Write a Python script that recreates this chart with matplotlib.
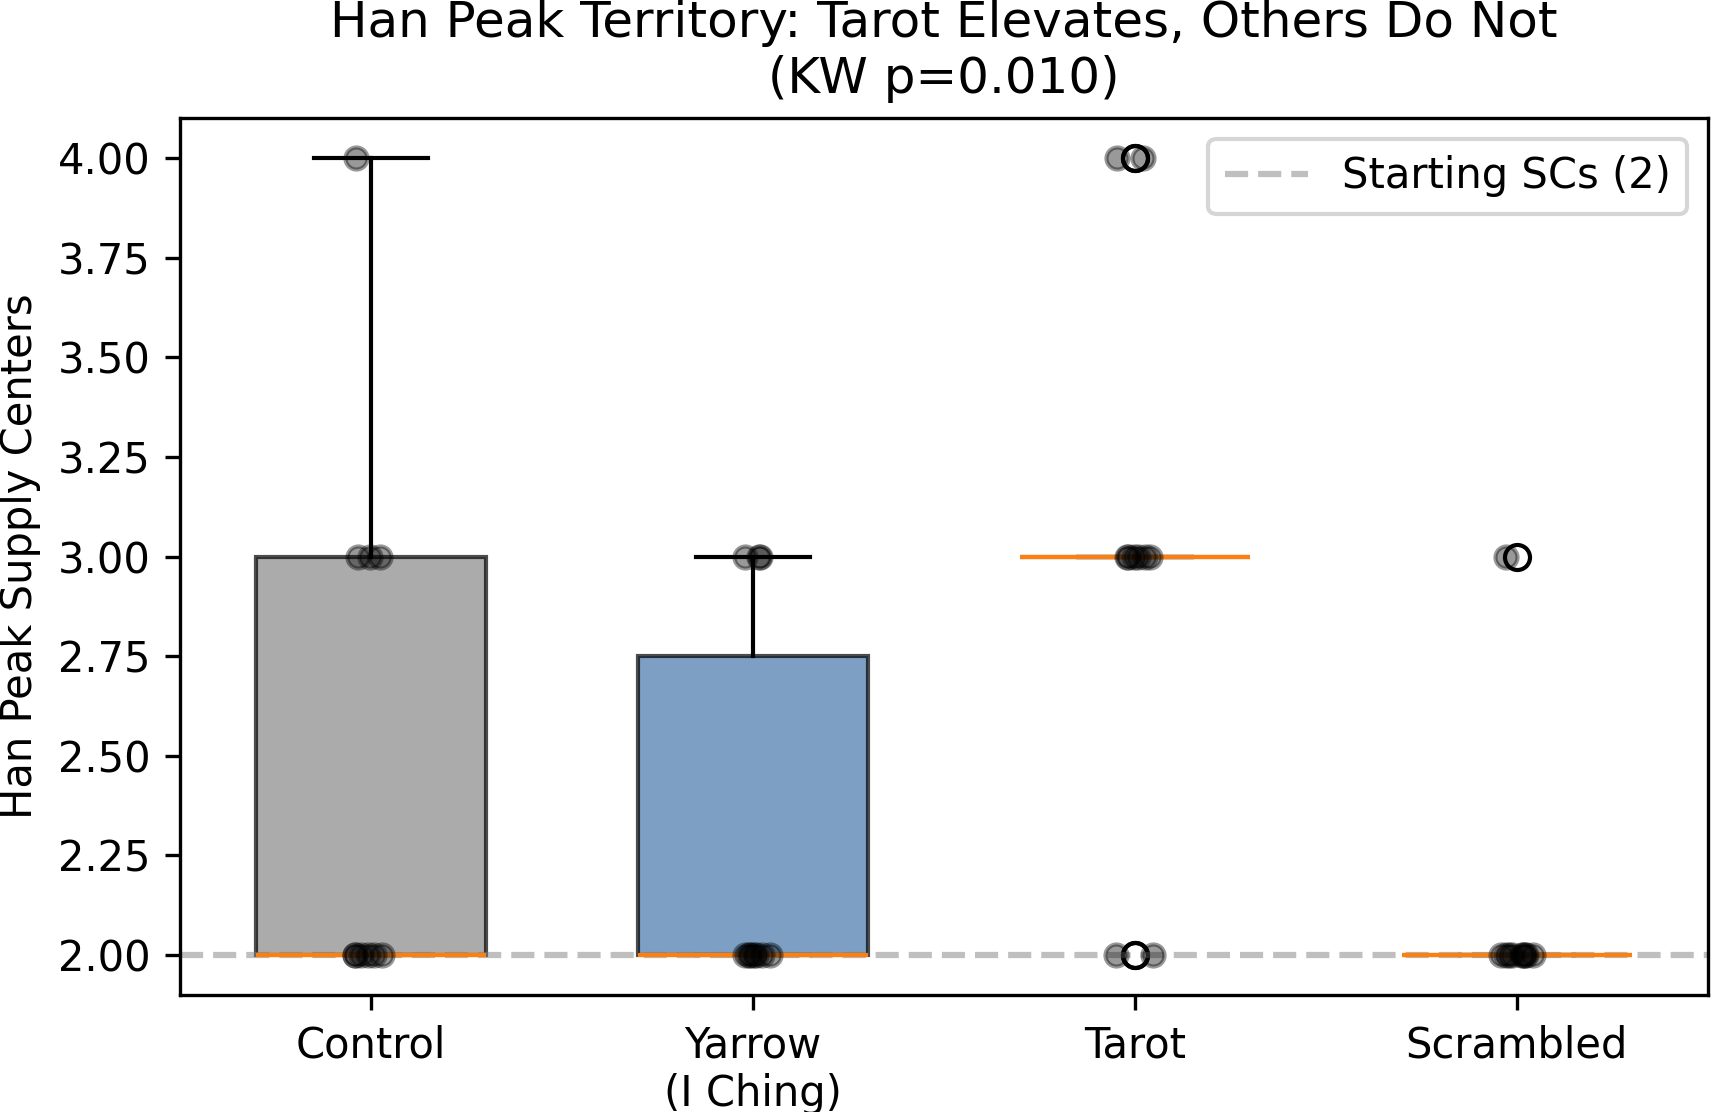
import numpy as np
import matplotlib
matplotlib.use("Agg")
import matplotlib.pyplot as plt

# peak supply centres per game, by condition
labels = ['Control', 'Yarrow\n(I Ching)', 'Tarot', 'Scrambled']
control = [2, 2, 2, 2, 2, 2, 3, 3, 3, 4]
yarrow = [2, 2, 2, 2, 2, 2, 2, 3, 3, 3]
tarot = [2, 2, 3, 3, 3, 3, 3, 3, 4, 4]
scrambled = [2, 2, 2, 2, 2, 2, 2, 2, 2, 3]
colors = ['#888888', '#4477AA', '#CC6677', '#228833']
starting_scs = 2

groups = [control, yarrow, tarot, scrambled]

fig = plt.figure(figsize=(1711 / 300, 1112 / 300), dpi=300)
ax = fig.add_axes([0.1052, 0.1052, 0.893, 0.7887])

bp = ax.boxplot(groups, patch_artist=True, widths=0.6)
for patch, c in zip(bp['boxes'], colors):
    patch.set_facecolor(c)
    patch.set_alpha(0.7)

# jittered raw points
rng = np.random.default_rng(3)
for i, g in enumerate(groups):
    x = np.full(len(g), i + 1) + rng.uniform(-0.05, 0.05, len(g))
    ax.scatter(x, g, color='black', alpha=0.4, s=28, zorder=3)

ax.axhline(starting_scs, color='gray', linestyle='--', alpha=0.5, linewidth=1.5,
           label='Starting SCs (2)')

ax.set_xticks(range(1, len(labels) + 1))
ax.set_xticklabels(labels)
ax.set_ylabel('Han Peak Supply Centers')
ax.set_title('Han Peak Territory: Tarot Elevates, Others Do Not\n(KW p=0.010)')
ax.legend(loc='upper right')

fig.savefig('out.png', dpi=300)
